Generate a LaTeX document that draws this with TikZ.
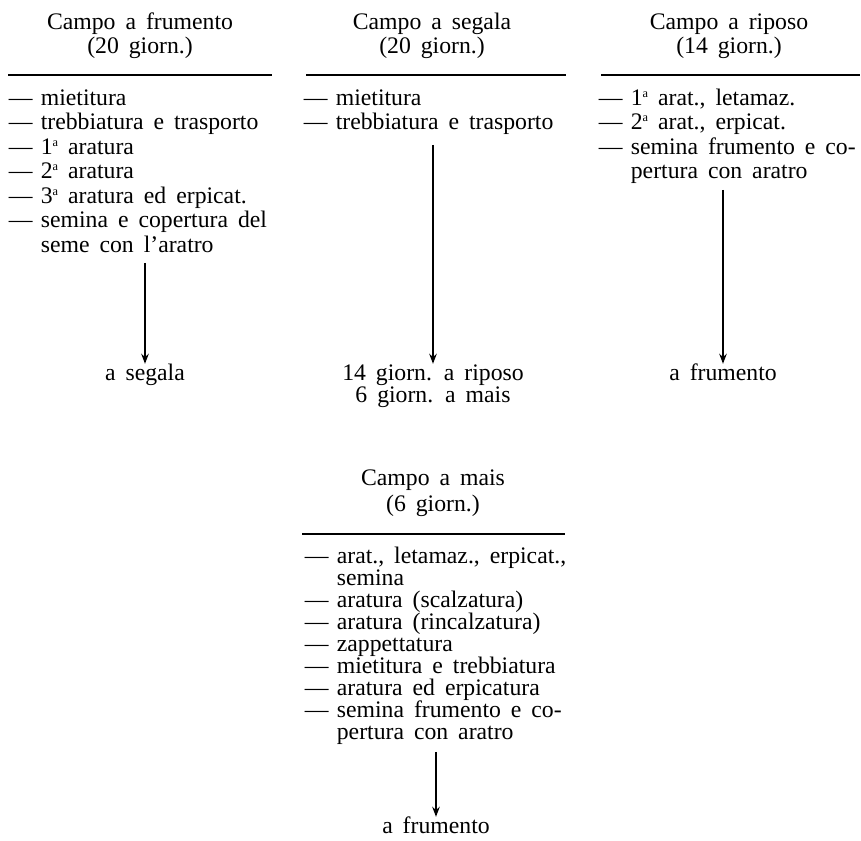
\documentclass[tikz,border=0pt]{standalone}
\usepackage{fontspec}
\setmainfont{Liberation Serif}
\usetikzlibrary{arrows.meta}
\newcommand{\itm}{\makebox[0.64cm][l]{\textemdash}}
\newcommand{\ordsup}[1]{\raisebox{0.75ex}{\fontsize{7}{8}\selectfont #1}}
\tikzset{
  item/.style={anchor=base west},
  head/.style={anchor=base},
  rule/.style={line width=1pt},
  flow/.style={->,line width=0.8pt},
}
\begin{document}
\begin{tikzpicture}[x=1cm,y=1cm,>={Stealth[length=2mm,width=1.5mm]},every node/.style={font={\fontsize{13.5}{16}\selectfont\spaceskip=0.42em\relax},inner sep=0.3pt,text height=9pt,text depth=2.6pt}]
\useasboundingbox (0,0) rectangle (17.22,16.82);
\node[head] (frT) at (2.80,16.22) {Campo a frumento};
\node[head] (frD) at (2.80,15.74) {(20 giorn.)};
\draw[rule] (0.16,15.32) -- (5.44,15.32);
\node[item] (fr1) at (0.16,14.71) {\itm mietitura};
\node[item] (fr2) at (0.16,14.22) {\itm trebbiatura e trasporto};
\node[item] (fr3) at (0.16,13.73) {\itm 1\ordsup{a} aratura};
\node[item] (fr4) at (0.16,13.24) {\itm 2\ordsup{a} aratura};
\node[item] (fr5) at (0.16,12.75) {\itm 3\ordsup{a} aratura ed erpicat.};
\node[item] (fr6) at (0.16,12.26) {\itm semina e copertura del};
\node[item] (fr6b) at (0.80,11.77) {seme con l'aratro};
\coordinate (frA) at (2.90,11.56);
\node[head] (frE) at (2.90,9.21) {a segala};
\draw[flow] (frA) -- (frE.north);
\node[head] (sgT) at (8.64,16.22) {Campo a segala};
\node[head] (sgD) at (8.64,15.74) {(20 giorn.)};
\draw[rule] (6.12,15.32) -- (11.32,15.32);
\node[item] (sg1) at (6.06,14.71) {\itm mietitura};
\node[item] (sg2) at (6.06,14.22) {\itm trebbiatura e trasporto};
\coordinate (sgA) at (8.66,13.92);
\node[head] (sgE) at (8.66,9.21) {14 giorn. a riposo};
\node[head] (sgF) at (8.66,8.77) {6 giorn. a mais};
\draw[flow] (sgA) -- (sgE.north);
\node[head] (rpT) at (14.58,16.22) {Campo a riposo};
\node[head] (rpD) at (14.58,15.74) {(14 giorn.)};
\draw[rule] (12.02,15.32) -- (17.20,15.32);
\node[item] (rp1) at (11.96,14.71) {\itm 1\ordsup{a} arat., letamaz.};
\node[item] (rp2) at (11.96,14.22) {\itm 2\ordsup{a} arat., erpicat.};
\node[item] (rp3) at (11.96,13.73) {\itm semina frumento e co-};
\node[item] (rp3b) at (12.60,13.24) {pertura con aratro};
\coordinate (rpA) at (14.46,13.02);
\node[head] (rpE) at (14.46,9.21) {a frumento};
\draw[flow] (rpA) -- (rpE.north);
\node[head] (msT) at (8.66,7.11) {Campo a mais};
\node[head] (msD) at (8.66,6.59) {(6 giorn.)};
\draw[rule] (6.04,6.14) -- (11.30,6.14);
\node[item] (ms1) at (6.08,5.55) {\itm arat., letamaz., erpicat.,};
\node[item] (ms1b) at (6.72,5.11) {semina};
\node[item] (ms2) at (6.08,4.67) {\itm aratura (scalzatura)};
\node[item] (ms3) at (6.08,4.23) {\itm aratura (rincalzatura)};
\node[item] (ms4) at (6.08,3.79) {\itm zappettatura};
\node[item] (ms5) at (6.08,3.35) {\itm mietitura e trebbiatura};
\node[item] (ms6) at (6.08,2.91) {\itm aratura ed erpicatura};
\node[item] (ms7) at (6.08,2.47) {\itm semina frumento e co-};
\node[item] (ms7b) at (6.72,2.03) {pertura con aratro};
\coordinate (msA) at (8.72,1.78);
\node[head] (msE) at (8.72,0.15) {a frumento};
\draw[flow] (msA) -- (msE.north);
\end{tikzpicture}
\end{document}
